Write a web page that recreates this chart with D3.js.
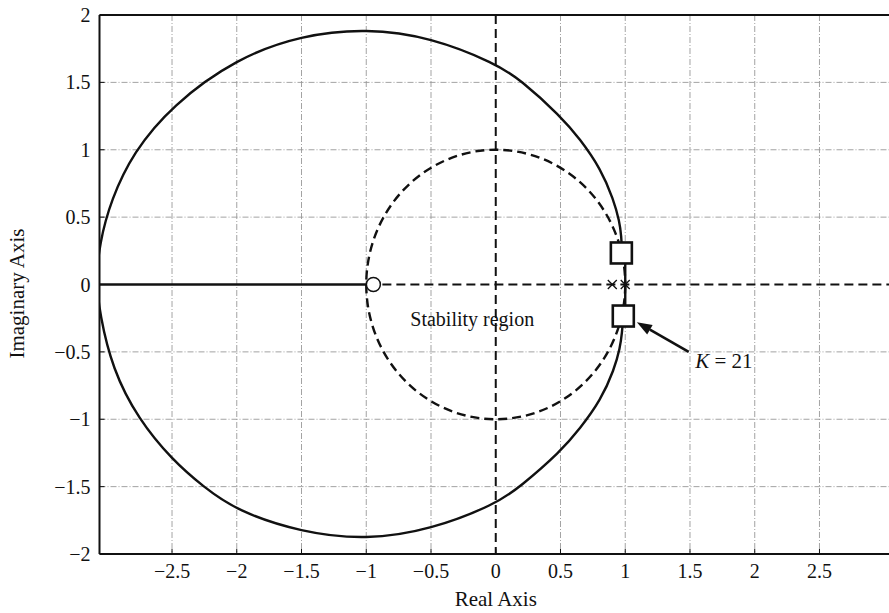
<!DOCTYPE html>
<html>
<head>
<meta charset="utf-8">
<script src="https://cdn.jsdelivr.net/npm/d3@7"></script>
<style>
  body { margin: 0; background: white; }
  text { font-family: "Liberation Serif", "Times New Roman", serif; fill: #111; }
</style>
</head>
<body>
<svg id="locus" width="889" height="613"></svg>
<script>
// ticks
const xTicks = [-2.5, -2, -1.5, -1, -0.5, 0, 0.5, 1, 1.5, 2, 2.5];
const yTicks = [-2, -1.5, -1, -0.5, 0, 0.5, 1, 1.5, 2];
const xGrid = [-2.5, -2, -1.5, -1, -0.5, 0.5, 1, 1.5, 2, 2.5];
const yGrid = [-1.5, -1, -0.5, 0.5, 1, 1.5];

// root locus branches (real, imag)
const upperBranch = [
  [0.975, 0.234], [0.97, 0.36], [0.955, 0.47], [0.91, 0.63], [0.81, 0.86], [0.65, 1.08],
  [0.5, 1.25], [0.19, 1.52], [0, 1.64], [-0.5, 1.835], [-1, 1.9],
  [-1.5, 1.85], [-2, 1.68], [-2.5, 1.33], [-2.8, 0.98], [-2.97, 0.63],
  [-3.06, 0.31], [-3.09, 0]
];
const lowerBranch = [
  [0.985, -0.234], [0.975, -0.36], [0.96, -0.47], [0.915, -0.63], [0.81, -0.86], [0.65, -1.07],
  [0.5, -1.24], [0.19, -1.5], [0, -1.63], [-0.5, -1.82], [-1, -1.896],
  [-1.5, -1.84], [-2, -1.68], [-2.26, -1.5], [-2.5, -1.3], [-2.76, -1.0],
  [-2.96, -0.63], [-3.06, -0.21], [-3.08, 0]
];
const verticalSegment = [[1.0, 0.234], [1.0, -0.234]];
const realAxisLocus = [[-3.06, 0], [-0.945, 0]];
const poles = [[0.9, 0], [1.0, 0]];
const zeros = [[-0.945, 0]];
const k21Points = [[0.97, 0.234], [0.985, -0.234]];
const unitCircle = { cx: 0, cy: 0, r: 1 };

// annotations
const k21Arrow = { from: [1.49, -0.5], to: [1.09, -0.28] };
const k21Label = { x: 1.54, y: -0.62 };
const stabilityLabel = { x: -0.66, y: -0.31, text: "Stability region" };

const svg = d3.select("#locus");
const margin = { top: 15, right: -3, bottom: 59, left: 99.5 };
const width = 889;
const height = 613;
const boundedWidth = width - margin.left - margin.right;
const boundedHeight = height - margin.top - margin.bottom;

const xScale = d3.scaleLinear().domain([-3.06, 3.06]).range([0, boundedWidth]);
const yScale = d3.scaleLinear().domain([-2, 2]).range([boundedHeight, 0]);

const g = svg.append("g")
  .attr("transform", `translate(${margin.left}, ${margin.top})`);

g.append("clipPath").attr("id", "plot-clip")
  .append("rect")
  .attr("width", boundedWidth)
  .attr("height", boundedHeight);

const plot = g.append("g").attr("clip-path", "url(#plot-clip)");

// grid
plot.selectAll(".vgrid")
  .data(xGrid)
  .enter()
  .append("line")
  .attr("class", "vgrid")
  .attr("x1", d => xScale(d)).attr("x2", d => xScale(d))
  .attr("y1", 0).attr("y2", boundedHeight)
  .style("stroke", "#999")
  .style("stroke-width", 0.9)
  .style("stroke-dasharray", "6,2,1,2");

plot.selectAll(".hgrid")
  .data(yGrid)
  .enter()
  .append("line")
  .attr("class", "hgrid")
  .attr("x1", 0).attr("x2", boundedWidth)
  .attr("y1", d => yScale(d)).attr("y2", d => yScale(d))
  .style("stroke", "#999")
  .style("stroke-width", 0.9)
  .style("stroke-dasharray", "6,2,1,2");

// imaginary axis + real axis (dashed)
plot.append("line")
  .attr("x1", xScale(0)).attr("x2", xScale(0))
  .attr("y1", 0).attr("y2", boundedHeight)
  .style("stroke", "#111")
  .style("stroke-width", 2)
  .style("stroke-dasharray", "9,5");

plot.append("line")
  .attr("x1", xScale(zeros[0][0]) + 9).attr("x2", boundedWidth)
  .attr("y1", yScale(0)).attr("y2", yScale(0))
  .style("stroke", "#111")
  .style("stroke-width", 2)
  .style("stroke-dasharray", "9,5");

// stability region (unit circle)
plot.append("ellipse")
  .attr("cx", xScale(unitCircle.cx))
  .attr("cy", yScale(unitCircle.cy))
  .attr("rx", xScale(unitCircle.r) - xScale(0))
  .attr("ry", yScale(0) - yScale(unitCircle.r))
  .style("fill", "none")
  .style("stroke", "#111")
  .style("stroke-width", 2.4)
  .style("stroke-dasharray", "9,5");

// locus
const line = d3.line()
  .x(d => xScale(d[0]))
  .y(d => yScale(d[1]))
  .curve(d3.curveBasis);

[upperBranch, lowerBranch].forEach(branch => {
  plot.append("path")
    .datum(branch)
    .attr("d", line)
    .style("fill", "none")
    .style("stroke", "#111")
    .style("stroke-width", 2.4);
});

[verticalSegment, realAxisLocus].forEach(seg => {
  plot.append("path")
    .datum(seg)
    .attr("d", d3.line().x(d => xScale(d[0])).y(d => yScale(d[1])))
    .style("fill", "none")
    .style("stroke", "#111")
    .style("stroke-width", 2.4);
});

// poles
poles.forEach(p => {
  const cx = xScale(p[0]), cy = yScale(p[1]), s = 4.5;
  plot.append("path")
    .attr("d", `M${cx - s},${cy - s}L${cx + s},${cy + s}M${cx - s},${cy + s}L${cx + s},${cy - s}`)
    .style("stroke", "#111")
    .style("stroke-width", 1.3);
});

// zero
plot.selectAll(".zero")
  .data(zeros)
  .enter()
  .append("circle")
  .attr("class", "zero")
  .attr("cx", d => xScale(d[0]))
  .attr("cy", d => yScale(d[1]))
  .attr("r", 7)
  .style("fill", "white")
  .style("stroke", "#111")
  .style("stroke-width", 1.5);

// K = 21 squares
const sq = 21;
plot.selectAll(".kpoint")
  .data(k21Points)
  .enter()
  .append("rect")
  .attr("class", "kpoint")
  .attr("x", d => xScale(d[0]) - sq / 2)
  .attr("y", d => yScale(d[1]) - sq / 2)
  .attr("width", sq)
  .attr("height", sq)
  .style("fill", "white")
  .style("stroke", "#111")
  .style("stroke-width", 2.6);

// axes frame (left, top, bottom)
const frame = "#111";
g.append("line").attr("x1", 0).attr("x2", 0).attr("y1", 0).attr("y2", boundedHeight)
  .style("stroke", frame).style("stroke-width", 2);
g.append("line").attr("x1", 0).attr("x2", boundedWidth).attr("y1", 0).attr("y2", 0)
  .style("stroke", frame).style("stroke-width", 2);
g.append("line").attr("x1", 0).attr("x2", boundedWidth).attr("y1", boundedHeight).attr("y2", boundedHeight)
  .style("stroke", frame).style("stroke-width", 2);

// small inward ticks
g.selectAll(".xtick")
  .data(xTicks)
  .enter()
  .append("line")
  .attr("x1", d => xScale(d)).attr("x2", d => xScale(d))
  .attr("y1", boundedHeight).attr("y2", boundedHeight - 5)
  .style("stroke", frame).style("stroke-width", 1);

g.selectAll(".ytick")
  .data(yTicks)
  .enter()
  .append("line")
  .attr("x1", 0).attr("x2", 5)
  .attr("y1", d => yScale(d)).attr("y2", d => yScale(d))
  .style("stroke", frame).style("stroke-width", 1);

const fmt = d => (d < 0 ? "\u2212" : "") + Math.abs(d);

// tick labels
g.selectAll(".xlabel")
  .data(xTicks)
  .enter()
  .append("text")
  .attr("class", "xlabel")
  .attr("x", d => xScale(d))
  .attr("y", boundedHeight + 24)
  .attr("text-anchor", "middle")
  .style("font-size", "20px")
  .text(fmt);

g.selectAll(".ylabel")
  .data(yTicks)
  .enter()
  .append("text")
  .attr("class", "ylabel")
  .attr("x", -9)
  .attr("y", d => yScale(d) + 7)
  .attr("text-anchor", "end")
  .style("font-size", "20px")
  .text(fmt);

// axis titles
svg.append("text")
  .attr("x", margin.left + xScale(0))
  .attr("y", 606)
  .attr("text-anchor", "middle")
  .style("font-size", "21px")
  .text("Real Axis");

svg.append("text")
  .attr("transform", `translate(24, ${margin.top + yScale(0) + 9}) rotate(-90)`)
  .attr("text-anchor", "middle")
  .style("font-size", "21px")
  .text("Imaginary Axis");

// annotations
g.append("text")
  .attr("x", xScale(stabilityLabel.x))
  .attr("y", yScale(stabilityLabel.y))
  .style("font-size", "20px")
  .text(stabilityLabel.text);

const kText = g.append("text")
  .attr("x", xScale(k21Label.x))
  .attr("y", yScale(k21Label.y))
  .style("font-size", "21px");
kText.append("tspan").style("font-style", "italic").text("K");
kText.append("tspan").text(" = 21");

// arrow
const ax0 = xScale(k21Arrow.from[0]), ay0 = yScale(k21Arrow.from[1]);
const ax1 = xScale(k21Arrow.to[0]), ay1 = yScale(k21Arrow.to[1]);
const ang = Math.atan2(ay1 - ay0, ax1 - ax0);
const headLen = 15, headW = 5.5;
const bx = ax1 - headLen * Math.cos(ang), by = ay1 - headLen * Math.sin(ang);
g.append("line")
  .attr("x1", ax0).attr("y1", ay0).attr("x2", bx).attr("y2", by)
  .style("stroke", "#111").style("stroke-width", 2.6);
g.append("path")
  .attr("d", `M${ax1},${ay1}` +
    `L${bx + headW * Math.sin(ang)},${by - headW * Math.cos(ang)}` +
    `L${bx - headW * Math.sin(ang)},${by + headW * Math.cos(ang)}Z`)
  .style("fill", "#111");
</script>
</body>
</html>
